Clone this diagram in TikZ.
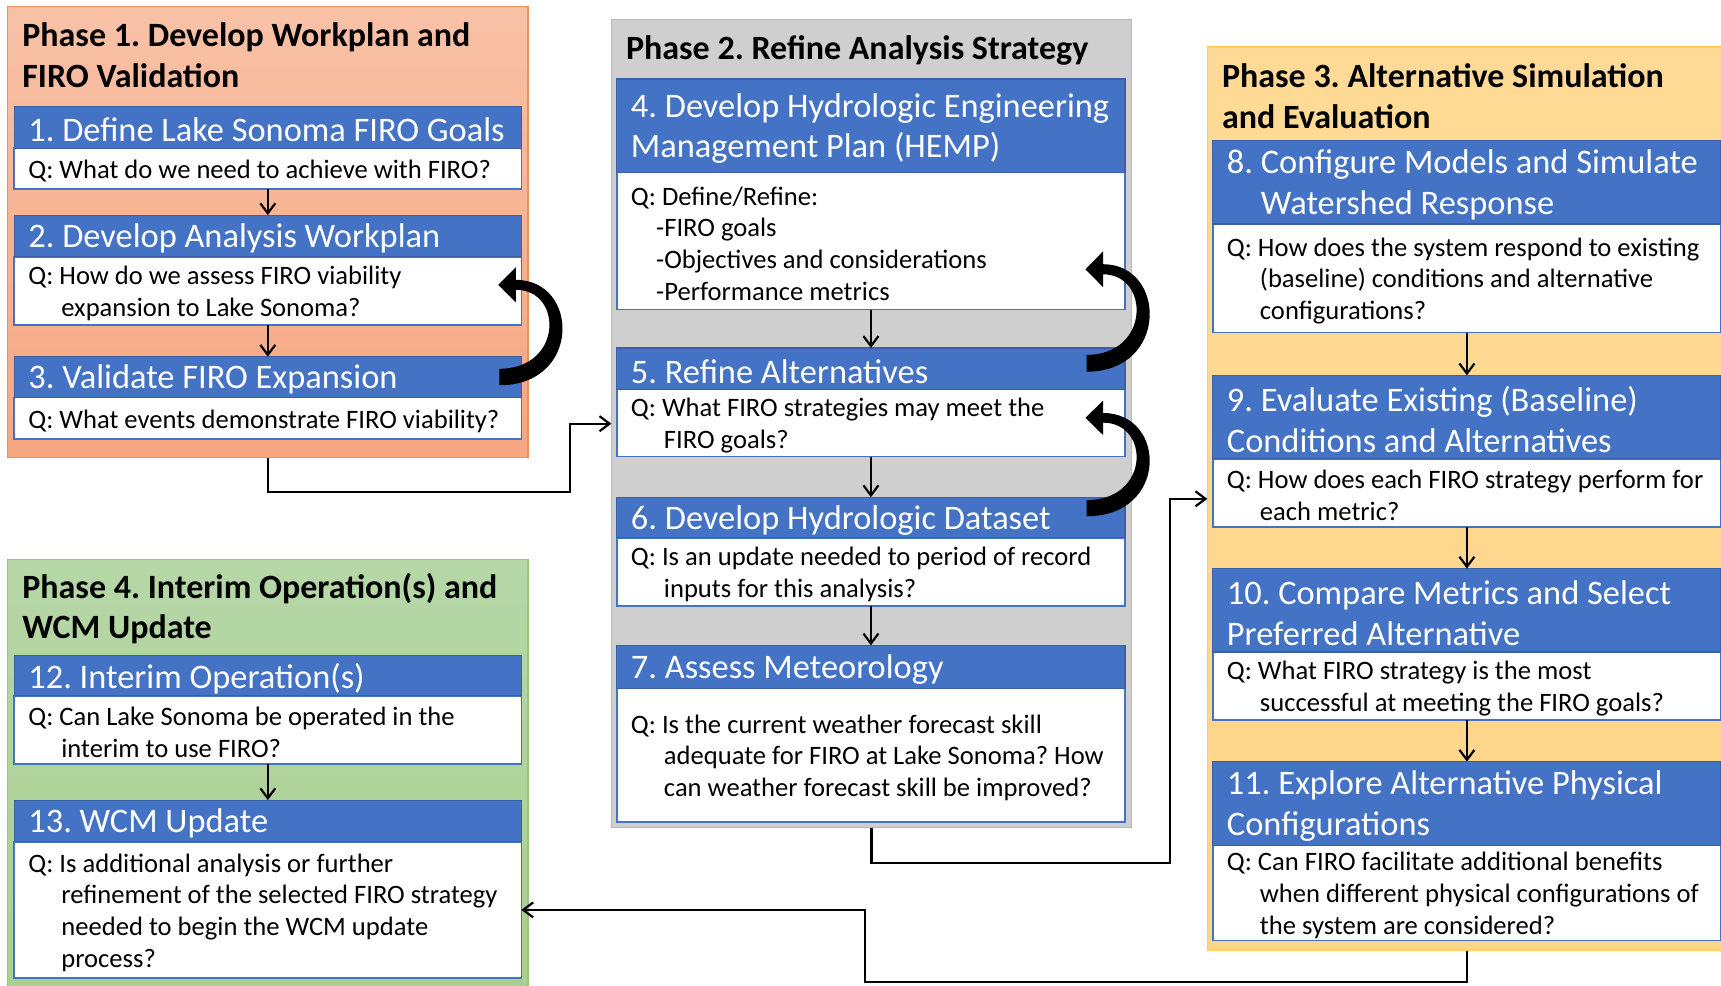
\documentclass[tikz,border=0pt]{standalone}
\usepackage{fontspec}
\setmainfont{Carlito}
\usetikzlibrary{arrows.meta,calc}
\newdimen\ux \ux=0.5488pt
\definecolor{hdrblue}{HTML}{4472C4}
\definecolor{hdrbd}{HTML}{3A60A8}
\definecolor{bodybd}{HTML}{4472C4}
\definecolor{ponetop}{HTML}{F8C1A6}
\definecolor{ponebot}{HTML}{F6A681}
\definecolor{ponebd}{HTML}{EE8F55}
\definecolor{ptwo}{HTML}{CFCFCF}
\definecolor{ptwobd}{HTML}{B8B8B8}
\definecolor{pthreetop}{HTML}{FFDA96}
\definecolor{pthreebot}{HTML}{FFD589}
\definecolor{pthreebd}{HTML}{FFCF55}
\definecolor{pfourtop}{HTML}{B6D7A7}
\definecolor{pfourbot}{HTML}{A9D08E}
\definecolor{pfourbd}{HTML}{98C77C}
\newcommand\hfont{\frenchspacing\fontsize{17.2pt}{20.3pt}\selectfont}
\newcommand\qfont{\frenchspacing\fontsize{13.3pt}{15.9pt}\selectfont}
\newcommand\tfont{\frenchspacing\fontsize{17pt}{20.3pt}\selectfont\bfseries}
\newcommand\qi{\hspace*{16.5pt}}
\newcommand\mkstep[8]{%
  \node[bodybox, minimum width=#4*\ux, minimum height=#6*\ux] (b#1) at (#2,#3+#5) {};
  \node[hdrbox, minimum width=#4*\ux, minimum height=#5*\ux] (h#1) at (#2,#3) {};
  \node[htext] (ht#1) at ([xshift=12.5*\ux,yshift=-2.5*\ux]h#1.west) {#7};
  \node[qtext] (qt#1) at ([xshift=12.5*\ux,yshift=-2.5*\ux]b#1.west) {#8};
}
% tapered curved feedback arrow, tail at origin, tip 84 units above
\newcommand\fbshape{\fill (0,7.5) .. controls (75,7.5) and (73,-88.5) .. (15,-88.5) -- (15,-100) -- (-1,-84) -- (15,-68) -- (15,-79.5) .. controls (58,-79.5) and (58,-7.5) .. (0,-7.5) -- cycle;}
\begin{document}
\begin{tikzpicture}[x=\ux,y=-\ux,
  panel/.style={anchor=north west, inner sep=0pt, outer sep=0pt, line width=0.7pt},
  hdrbox/.style={anchor=north west, inner sep=0pt, outer sep=0pt, fill=hdrblue, draw=hdrbd, line width=0.6pt},
  bodybox/.style={anchor=north west, inner sep=0pt, outer sep=0pt, fill=white, draw=bodybd, line width=0.8pt},
  htext/.style={anchor=west, inner sep=0pt, align=left, text=white, font=\hfont},
  qtext/.style={anchor=west, inner sep=0pt, align=left, text=black, font=\qfont},
  ptitle/.style={anchor=west, inner sep=0pt, align=left, text=black, font=\tfont},
  conn/.style={line width=1.1pt, -{Straight Barb[length=5pt,width=7.5pt]}}]
\clip (0,0) rectangle (1568,898);
\fill[white] (0,0) rectangle (1568,898);
% panels
\node[panel, top color=ponetop, bottom color=ponebot, draw=ponebd, minimum width=474*\ux, minimum height=411*\ux] (p1) at (7,6) {};
\node[panel, fill=ptwo, draw=ptwobd, minimum width=474*\ux, minimum height=736*\ux] (p2) at (557,18) {};
\node[panel, top color=pthreetop, bottom color=pthreebot, draw=pthreebd, minimum width=473*\ux, minimum height=823*\ux] (p3) at (1100,43) {};
\node[panel, top color=pfourtop, bottom color=pfourbot, draw=pfourbd, minimum width=474*\ux, minimum height=392*\ux] (p4) at (7,510) {};
% titles
\node[ptitle] (t1) at (20,50.5) {Phase 1. Develop Workplan and\\FIRO Validation};
\node[ptitle] (t2) at (570,45.5) {Phase 2. Refine Analysis Strategy};
\node[ptitle] (t3) at (1113,87.5) {Phase 3. Alternative Simulation\\and Evaluation};
\node[ptitle] (t4) at (20,554.5) {Phase 4. Interim Operation(s) and\\WCM Update};
% steps
\mkstep{1}{13}{97}{462}{38}{37}{1. Define Lake Sonoma FIRO Goals}{Q: What do we need to achieve with FIRO?}
\mkstep{2}{13}{196}{462}{38}{62}{2. Develop Analysis Workplan}{Q: How do we assess FIRO viability\\\qi expansion to Lake Sonoma?}
\mkstep{3}{13}{325}{462}{37}{38}{3. Validate FIRO Expansion}{Q: What events demonstrate FIRO viability?}
\mkstep{12}{13}{597}{462}{37}{62}{12. Interim Operation(s)}{Q: Can Lake Sonoma be operated in the\\\qi interim to use FIRO?}
\mkstep{13}{13}{729}{462}{38}{124}{13. WCM Update}{Q: Is additional analysis or further\\\qi refinement of the selected FIRO strategy\\\qi needed to begin the WCM update\\\qi process?}
\mkstep{4}{562}{72}{463}{85}{125}{4. Develop Hydrologic Engineering\\Management Plan (HEMP)}{Q: Define/Refine:\\\hspace*{12.6pt}-FIRO goals\\\hspace*{12.6pt}-Objectives and considerations\\\hspace*{12.6pt}-Performance metrics}
\mkstep{5}{562}{317}{463}{38}{61}{5. Refine Alternatives}{Q: What FIRO strategies may meet the\\\qi FIRO goals?}
\mkstep{6}{562}{453}{463}{37}{62}{6. Develop Hydrologic Dataset}{Q: Is an update needed to period of record\\\qi inputs for this analysis?}
\mkstep{7}{562}{588}{463}{39}{122}{7. Assess Meteorology}{Q: Is the current weather forecast skill\\\qi adequate for FIRO at Lake Sonoma? How\\\qi can weather forecast skill be improved?}
\mkstep{8}{1105}{128}{463}{76}{99}{8. Configure Models and Simulate\\\hspace*{17pt}Watershed Response}{Q: How does the system respond to existing\\\qi (baseline) conditions and alternative\\\qi configurations?}
\mkstep{9}{1105}{342}{463}{76}{62}{9. Evaluate Existing (Baseline)\\Conditions and Alternatives}{Q: How does each FIRO strategy perform for\\\qi each metric?}
\mkstep{10}{1105}{518}{463}{76}{62}{10. Compare Metrics and Select\\Preferred Alternative}{Q: What FIRO strategy is the most\\\qi successful at meeting the FIRO goals?}
\mkstep{11}{1105}{694}{463}{76}{87}{11. Explore Alternative Physical\\Configurations}{Q: Can FIRO facilitate additional benefits\\\qi when different physical configurations of\\\qi the system are considered?}
% vertical arrows
\draw[conn] (b1.south) -- (h2.north);
\draw[conn] (b2.south) -- (h3.north);
\draw[conn] (b12.south) -- (h13.north);
\draw[conn] (b4.south) -- (h5.north);
\draw[conn] (b5.south) -- (h6.north);
\draw[conn] (b6.south) -- (h7.north);
\draw[conn] (b8.south) -- (h9.north);
\draw[conn] (b9.south) -- (h10.north);
\draw[conn] (b10.south) -- (h11.north);
% phase connectors
\coordinate (c1) at (519,448);
\coordinate (c2) at (1066,786);
\coordinate (c3) at (788,895);
\draw[conn] (p1.south) |- (c1) |- (p2.west);
\draw[conn] (p2.south) |- (c2) |- (p3.west);
\draw[conn] (p3.south) |- (c3) |- (b13.east);
% curved feedback arrows (3 -> 2, 5 -> 4, 6 -> 5)
\begin{scope}[shift={([xshift=-20*\ux]h3.east)}] \fbshape \end{scope}
\begin{scope}[shift={([xshift=-35*\ux,yshift=5*\ux]h5.east)}, yscale=1.02] \fbshape \end{scope}
\begin{scope}[shift={([xshift=-35*\ux,yshift=8.5*\ux]h6.east)}, yscale=0.98] \fbshape \end{scope}
\end{tikzpicture}
\end{document}
